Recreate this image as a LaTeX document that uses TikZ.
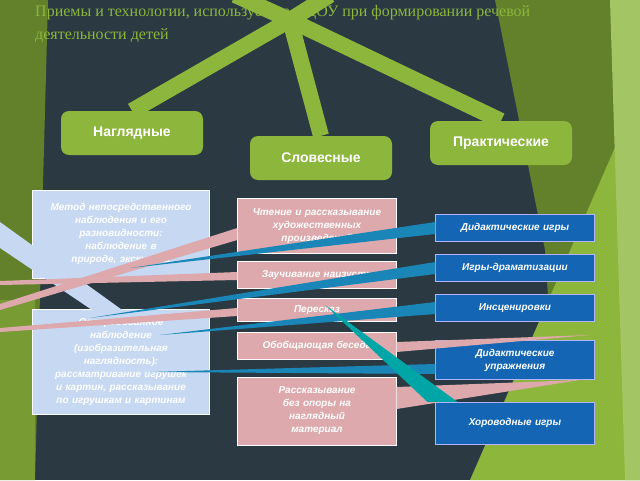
\documentclass[tikz,border=0pt]{standalone}
\usepackage{fontspec}
\setmainfont{Liberation Serif}
\newfontfamily\boxfont{Liberation Sans}
\begin{document}
\begin{tikzpicture}[x=1pt, y=-1pt,
    grp/.style={fill=leafgreen, rounded corners=8pt, minimum width=142pt, minimum height=44pt, text=white, font=\boxfont\bfseries\fontsize{14}{16}\selectfont},
    vis/.style={fill=visblue, draw=white, minimum width=177pt, text width=150pt, align=center, text=white, font=\boxfont\bfseries\itshape\fontsize{10}{13}\selectfont},
    verb/.style={fill=verbpink, draw=white, minimum width=159pt, text width=140pt, align=center, text=white, font=\boxfont\bfseries\itshape\fontsize{10}{13}\selectfont},
    prac/.style={fill=pracblue, draw=white!70!blue, minimum width=159pt, text width=130pt, align=center, text=white, font=\boxfont\bfseries\itshape\fontsize{10}{13}\selectfont}]
  \definecolor{slate}{HTML}{2B3A42}
  \definecolor{leafgreen}{HTML}{8DB63C}
  \definecolor{visblue}{HTML}{C6D8F2}
  \definecolor{verbpink}{HTML}{DDA9AC}
  \definecolor{pracblue}{HTML}{1466B4}
  \definecolor{wedgeblue}{HTML}{1A86B8}
  \useasboundingbox (0,0) rectangle (640,480);
  % background
  \fill[slate] (0,0) rectangle (640,480);
  \fill[leafgreen!70!black] (0,0) -- (48,0) -- (35,480) -- (0,480) -- cycle;
  \fill[leafgreen!85!black] (0,300) -- (35,300) -- (35,480) -- (0,480) -- cycle;
  \fill[leafgreen!70!black] (495,0) -- (640,0) -- (640,480) -- (560,480) -- (545,250) -- cycle;
  \fill[leafgreen] (640,90) -- (640,480) -- (470,480) -- cycle;
  \fill[leafgreen!80!white] (610,0) -- (640,0) -- (640,480) -- (625,480) -- cycle;
  % title
  \node[anchor=north west, text=leafgreen, font=\fontsize{16}{19}\selectfont, align=left, inner sep=0pt] (title) at (35,5)
    {Приемы и технологии, используемые в ДОУ при формировании речевой\\[4pt]деятельности детей};
  % groups
  \coordinate (hub) at (290,20);
  \draw[leafgreen, line width=16pt] (hub) -- (235,-5);
  \draw[leafgreen, line width=16pt] (hub) -- (330,-5);
  \node[grp] (nag) at (132,133) {Наглядные};
  \node[grp] (slo) at (321,158) {Словесные};
  \node[grp] (pra) at (501,143) {Практические};
  \draw[leafgreen, line width=16pt] (hub) -- (nag.north);
  \draw[leafgreen, line width=16pt] (hub) -- (slo.north);
  \draw[leafgreen, line width=16pt] (hub) -- (pra.north);
  % visual
  \node[vis, minimum height=88pt] (v1) at (121,234) {Метод непосредственного наблюдения и его разновидности: наблюдение в природе, экскурсии};
  \node[vis, minimum height=105pt] (v2) at (121,362) {Опосредованное наблюдение (изобразительная наглядность): рассматривание игрушек и картин, рассказывание по игрушкам и картинам};
  \fill[visblue] (0,222) -- (0,248) -- (95,312) -- (125,312) -- cycle;
  % verbal
  \node[verb, minimum height=55pt] (w1) at (317,226) {Чтение и рассказывание художественных произведений};
  \node[verb, minimum height=27pt] (w2) at (317,275) {Заучивание наизусть};
  \node[verb, minimum height=23pt] (w3) at (317,310) {Пересказ};
  \node[verb, minimum height=27pt] (w4) at (317,346) {Обобщающая беседа};
  \node[verb, minimum height=68pt, text width=95pt] (w5) at (317,411) {Рассказывание без опоры на наглядный материал};
  % practical
  \node[prac, minimum height=27pt] (p1) at (515,228) {Дидактические игры};
  \node[prac, minimum height=27pt] (p2) at (515,268) {Игры-драматизации};
  \node[prac, minimum height=27pt] (p3) at (515,308) {Инсценировки};
  \node[prac, minimum height=39pt] (p4) at (515,360) {Дидактические упражнения};
  \node[prac, minimum height=42pt] (p5) at (515,423) {Хороводные игры};
  % pointers
  \fill[verbpink] (w1.west) ++(0,2) -- ++(0,12) -- (0,310) -- (0,304) -- cycle;
  \fill[verbpink] (w2.west) ++(0,-3) -- ++(0,8) -- (0,285) -- (0,281) -- cycle;
  \fill[verbpink] (w3.west) ++(0,-2) -- ++(0,8) -- (0,332) -- (0,328) -- cycle;
  \fill[verbpink] (w4.east) ++(0,-4) -- ++(0,10) -- (590,335) -- cycle;
  \fill[verbpink] (w5.east) ++(0,-24) -- ++(0,22) -- (580,380) -- cycle;
  \fill[wedgeblue] (p1.west) ++(0,-6) -- ++(0,12) -- (130,268) -- cycle;
  \fill[wedgeblue] (p2.west) ++(0,-6) -- ++(0,12) -- (90,318) -- cycle;
  \fill[wedgeblue] (p3.west) ++(0,-6) -- ++(0,12) -- (160,335) -- cycle;
  \fill[wedgeblue] (p4.west) ++(0,4) -- ++(0,10) -- (150,372) -- cycle;
  \fill[teal!70!cyan] (p5.north west) ++(-8,0) -- ++(30,0) -- (325,305) -- cycle;
\end{tikzpicture}
\end{document}
